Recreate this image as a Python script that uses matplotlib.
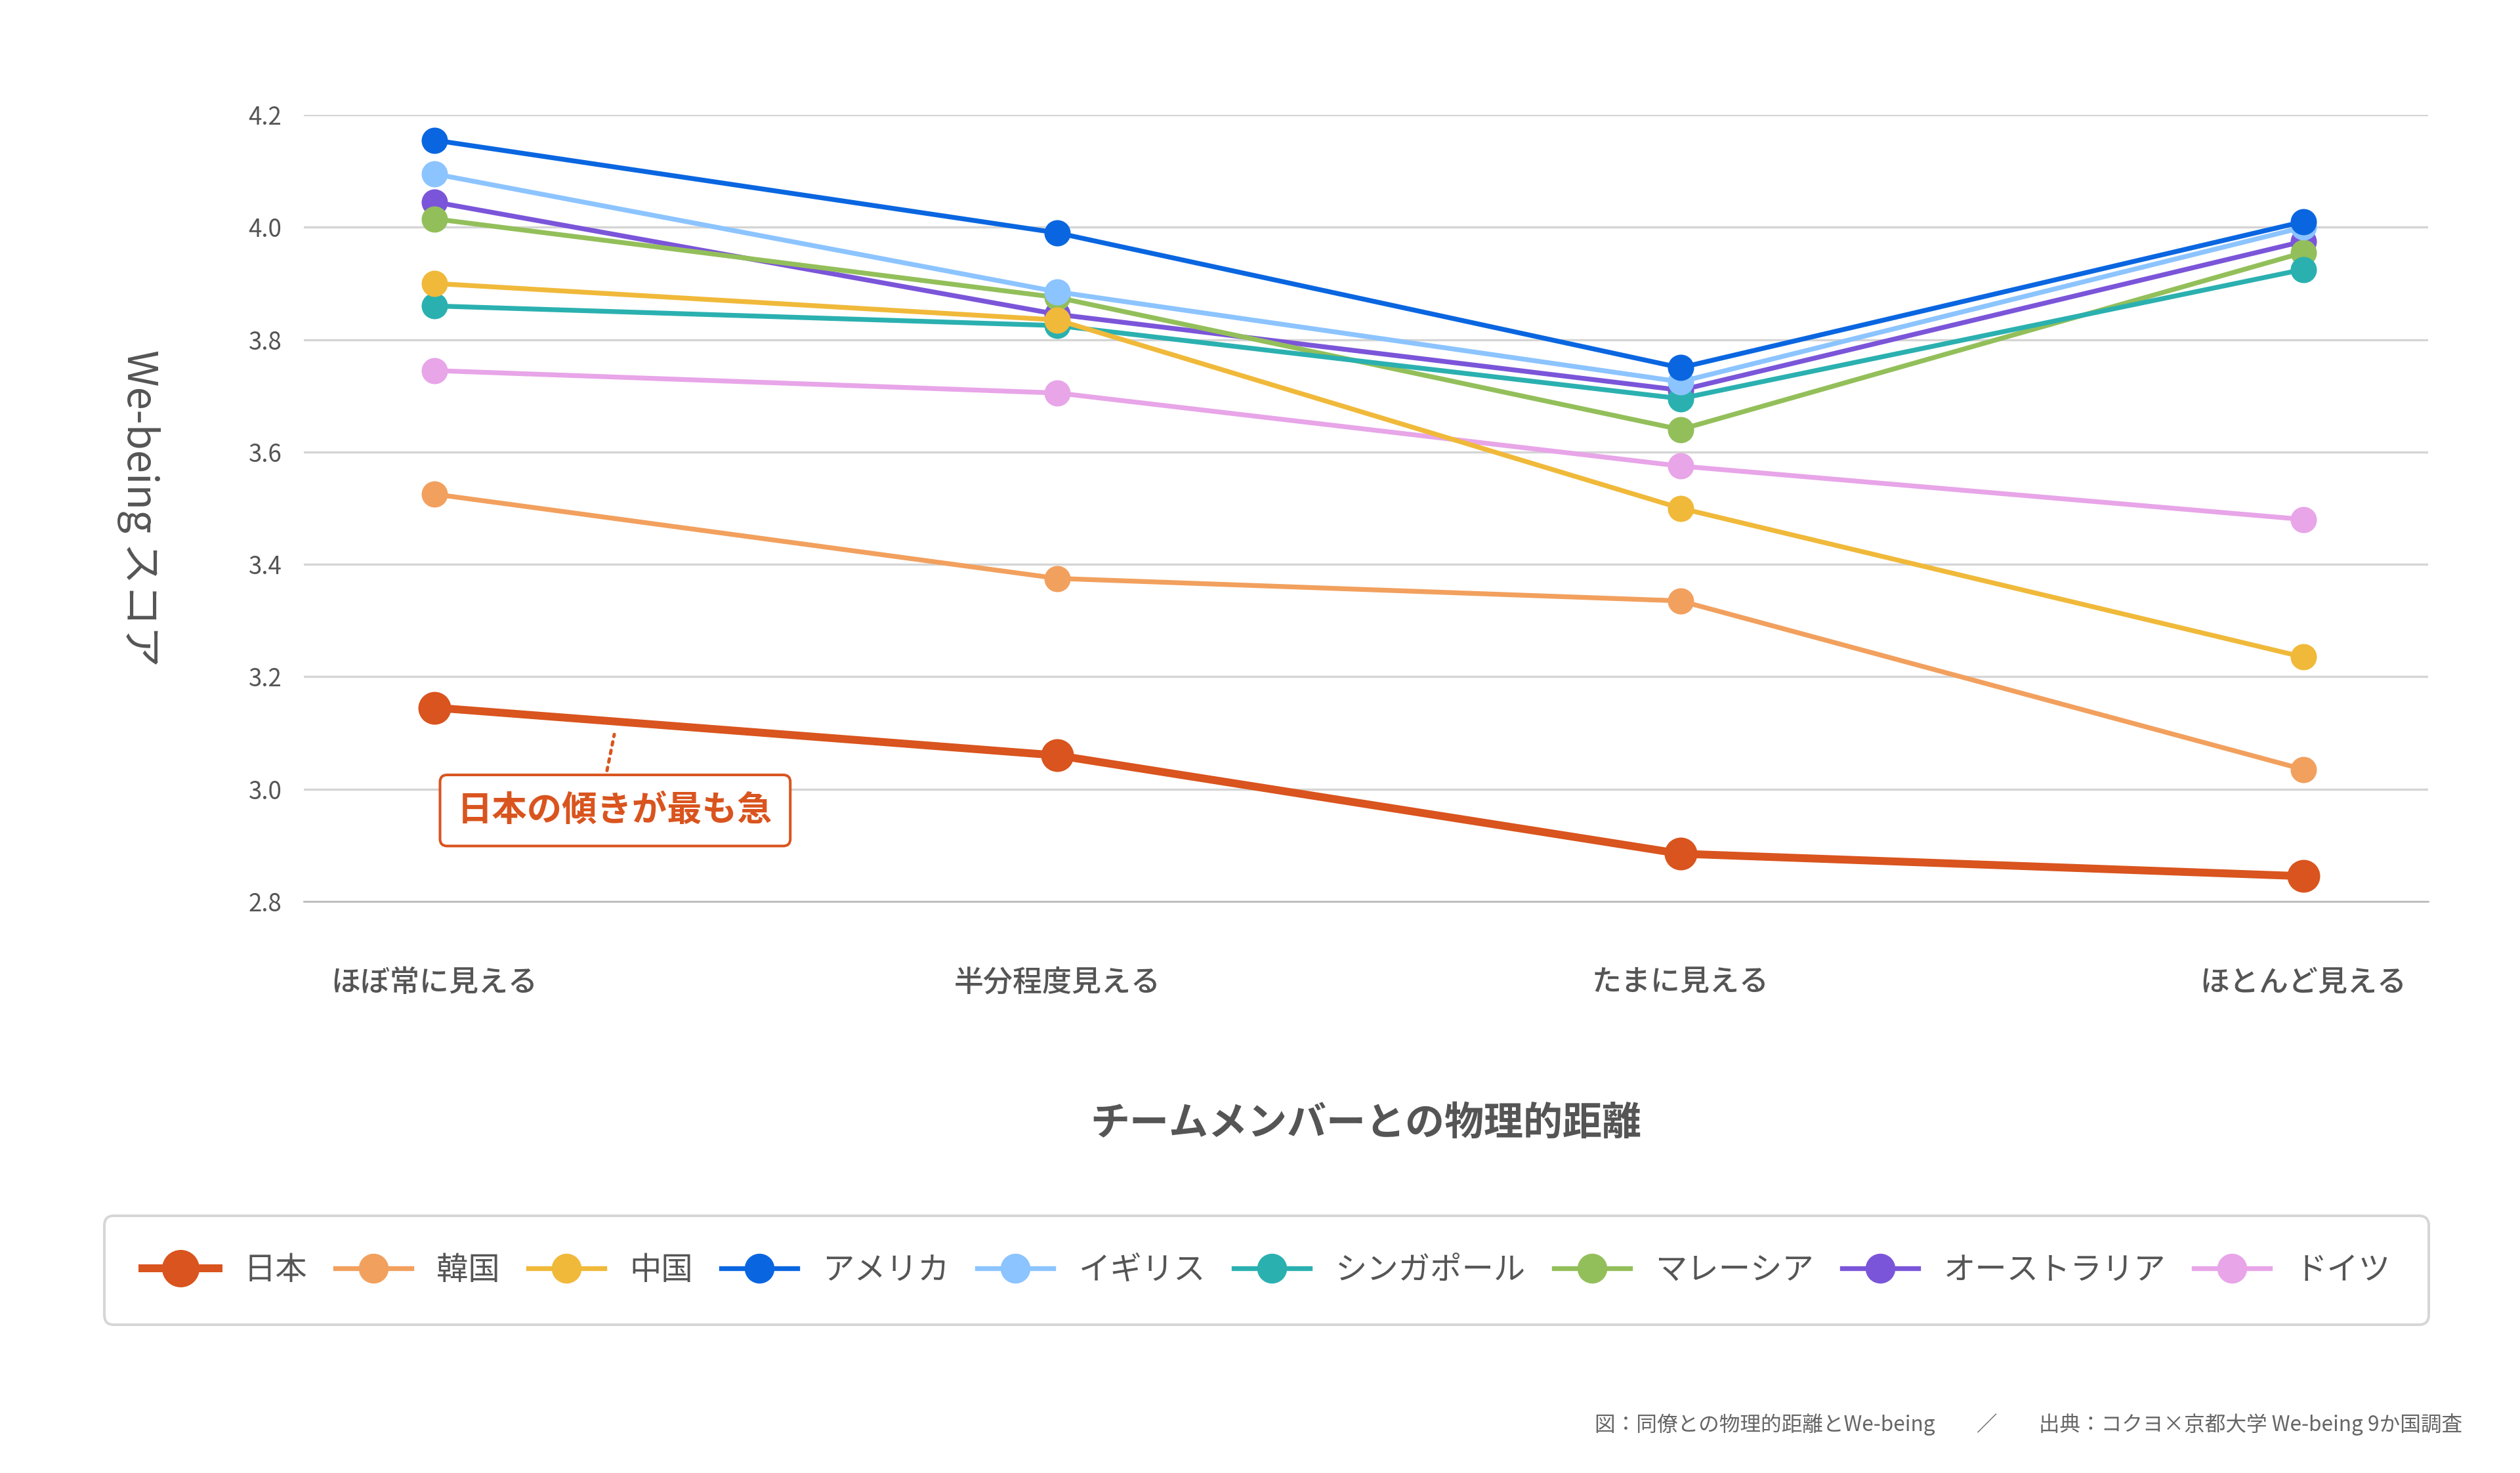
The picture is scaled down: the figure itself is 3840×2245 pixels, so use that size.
import matplotlib
matplotlib.use('Agg')
import matplotlib.pyplot as plt

plt.rcParams['font.family'] = ['Noto Sans CJK JP', 'DejaVu Sans']

# データ
CATEGORIES = ['ほぼ常に見える', '半分程度見える', 'たまに見える', 'ほとんど見える']
COUNTRIES = ['日本', '韓国', '中国', 'アメリカ', 'イギリス', 'シンガポール', 'マレーシア', 'オーストラリア', 'ドイツ']
japan = [3.145, 3.06, 2.885, 2.845]
korea = [3.525, 3.375, 3.335, 3.035]
china = [3.90, 3.835, 3.50, 3.235]
usa = [4.155, 3.99, 3.75, 4.01]
uk = [4.095, 3.885, 3.725, 4.0]
singapore = [3.86, 3.825, 3.695, 3.925]
malaysia = [4.015, 3.875, 3.64, 3.955]
australia = [4.045, 3.845, 3.71, 3.975]
germany = [3.745, 3.705, 3.575, 3.48]
SERIES = [japan, korea, china, usa, uk, singapore, malaysia, australia, germany]
COLORS = ['#D9541E', '#F2A05E', '#F0B93A', '#0A66E0', '#8CC4FF',
          '#2BB0B0', '#93BF5A', '#7B55D9', '#E8A5E8']
Y_TICKS = [2.8, 3.0, 3.2, 3.4, 3.6, 3.8, 4.0, 4.2]

fig = plt.figure(figsize=(16, 2245 / 240), dpi=240)
ax = fig.add_axes([0.1205, 0.388, 0.843, 0.534])

x = list(range(len(CATEGORIES)))
# 日本を最前面に描くため逆順
for i in reversed(range(len(SERIES))):
    big = i == 0
    ax.plot(x, SERIES[i], color=COLORS[i], marker='o',
            linewidth=3.6 if big else 2.2, markersize=14 if big else 11,
            label=COUNTRIES[i], zorder=10 if big else 3)

ax.set_ylim(2.8, 4.2)
ax.set_xlim(-0.21, 3.2)
ax.set_yticks(Y_TICKS)
ax.set_yticklabels([f'{v:.1f}' for v in Y_TICKS])
ax.set_xticks(x)
ax.set_xticklabels(CATEGORIES, fontsize=13.5, color='#555555', fontweight='medium')
ax.tick_params(axis='x', length=0, pad=30)
ax.tick_params(axis='y', length=0, labelsize=11, colors='#555555', pad=10)
ax.grid(axis='y', color='#D5D5D5', linewidth=1)
ax.set_axisbelow(True)
for s in ['top', 'right', 'left']:
    ax.spines[s].set_visible(False)
ax.spines['bottom'].set_color('#BBBBBB')

ax.set_xlabel('チームメンバーとの物理的距離', fontsize=18, fontweight='bold',
              color='#555555', labelpad=48)
fig.text(0.055, 0.655, 'We-being スコア', rotation=-90, fontsize=19,
         color='#555555', ha='center', va='center')

ax.annotate('', xy=(0.29, 3.105), xytext=(0.27, 2.995),
            arrowprops=dict(arrowstyle='-', linestyle=':', color='#D9541E', lw=1.5))
ax.text(0.29, 2.962, '日本の傾きが最も急', fontsize=16, color='#D9541E',
        ha='center', va='center', fontweight='bold',
        bbox=dict(boxstyle='round,pad=0.5,rounding_size=0.2', fc='white', ec='#D9541E', lw=1.2))

handles, labels = ax.get_legend_handles_labels()
leg = fig.legend(handles[::-1], labels[::-1], ncol=9, loc='lower left',
                 bbox_to_anchor=(0.035, 0.09, 0.935, 0.08), mode='expand',
                 fontsize=14.5, frameon=True, handlelength=2.4, borderpad=1.2,
                 markerscale=1.15, labelcolor='#555555')
leg.get_frame().set_edgecolor('#CCCCCC')
leg.get_frame().set_linewidth(1.2)
leg.get_frame().set_boxstyle('round,pad=0,rounding_size=0.3')

fig.text(0.977, 0.033, '図：同僚との物理的距離とWe-being　　／　　出典：コクヨ×京都大学 We-being 9か国調査',
         fontsize=9.5, color='#666666', ha='right', va='center')

fig.savefig('out.png', dpi=240, facecolor='white')
